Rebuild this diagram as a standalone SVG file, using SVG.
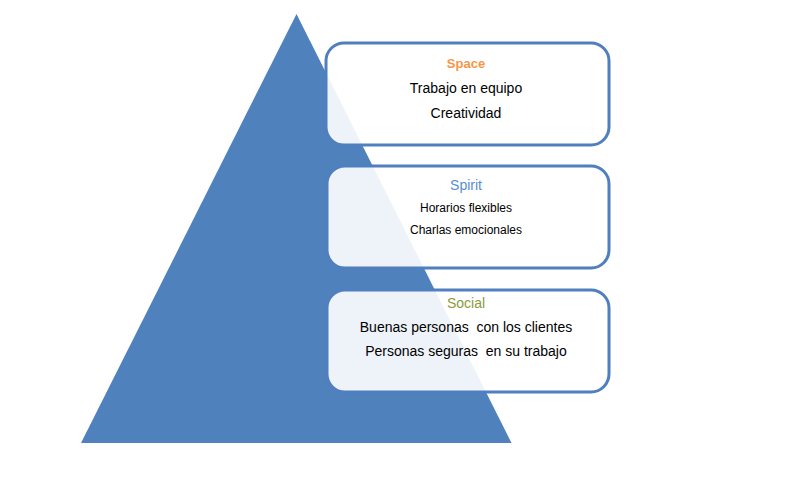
<svg xmlns="http://www.w3.org/2000/svg" width="789" height="484" viewBox="0 0 789 484">
<style>
.box{fill:#ffffff;fill-opacity:0.9;stroke:#4f7fbf;stroke-width:3}
text{font-family:"Liberation Sans","DejaVu Sans",sans-serif;text-anchor:middle;fill:#000;white-space:pre}
.t{font-size:14px}
.s{font-size:12px}
</style>
<rect width="789" height="484" fill="#fff"/>
<g id="pyramid"><polygon points="296.5,14 511.5,443 81,443" fill="#4f81bd"/></g>
<g id="connectors"></g>
<g id="space">
<rect class="box" x="326" y="43" width="283" height="102" rx="18"/>
<text x="466" y="68" style="font-size:13px;font-weight:bold;fill:#f79646">Space</text>
<text class="t" x="466" y="93">Trabajo en equipo</text>
<text class="t" x="466" y="118">Creatividad</text>
</g>
<g id="spirit">
<rect class="box" x="327" y="166" width="282" height="102" rx="18"/>
<text x="466" y="190" style="font-size:14px;fill:#558ed5">Spirit</text>
<text class="s" x="466" y="212">Horarios flexibles</text>
<text class="s" x="466" y="234">Charlas emocionales</text>
</g>
<g id="social">
<rect class="box" x="327" y="290" width="282" height="102" rx="18"/>
<text x="466" y="308" style="font-size:14px;fill:#8b9a3b">Social</text>
<text class="t" x="466" y="332" xml:space="preserve">Buenas personas  con los clientes</text>
<text class="t" x="466" y="356" xml:space="preserve">Personas seguras  en su trabajo</text>
</g>
</svg>
